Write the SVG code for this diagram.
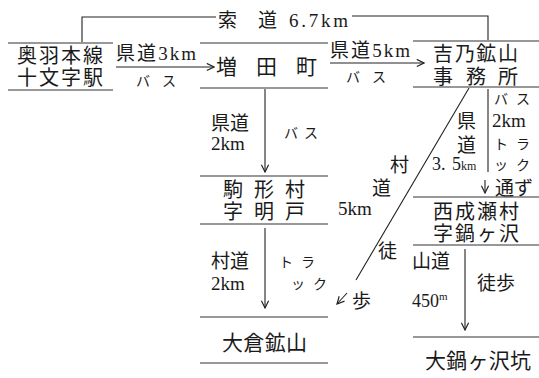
<svg xmlns="http://www.w3.org/2000/svg" width="539" height="378" viewBox="0 0 539 378">
<defs>
<style>
.t{font-family:"Liberation Serif","Noto Sans CJK JP",serif;fill:#1a1a1a;}
.n{font-size:21px;}
.n2{font-size:20px;}
.m{font-size:19px;}
.s{font-size:14px;}
.ln{stroke:#333;stroke-width:1.2;fill:none;}
.c{stroke:#222;stroke-width:1.1;fill:none;}
</style>
<marker id="ah" viewBox="0 0 10 10" refX="9" refY="5" markerWidth="9" markerHeight="9" markerUnits="userSpaceOnUse" orient="auto">
<path d="M1,1 L9,5 L1,9" fill="none" stroke="#222" stroke-width="1.3"/>
</marker>
</defs>
<rect width="539" height="378" fill="#fff"/>

<g id="connectors">
<path class="c" d="M82,42 V17 H216"/>
<path class="c" d="M352,16 H488 V40"/>
<path class="c" d="M116,67 H214" marker-end="url(#ah)"/>
<path class="c" d="M330,63 H424" marker-end="url(#ah)"/>
<path class="c" d="M265,89 V172" marker-end="url(#ah)"/>
<path class="c" d="M265,228 V308" marker-end="url(#ah)"/>
<path class="c" d="M469,88 L356,280"/>
<path class="c" d="M347,293 L337,304" marker-end="url(#ah)"/>
<path class="c" d="M488,89 V172"/>
<path class="c" d="M485,180 V193" marker-end="url(#ah)"/>
<path class="c" d="M465,249 V330" marker-end="url(#ah)"/>
</g>

<g id="edge-labels" class="t">
<text class="m" x="218" y="27">索</text>
<text class="m" x="258" y="27">道</text>
<text class="m" x="289" y="27" textLength="59">6.7km</text>
<text class="m" x="116" y="60" textLength="80">県道3km</text>
<text class="s" x="136" y="86" letter-spacing="12">バス</text>
<text class="m" x="330" y="57" textLength="80">県道5km</text>
<text class="s" x="346" y="82" letter-spacing="12">バス</text>
<text class="m" x="211" y="130">県道</text>
<text class="m" x="211" y="150">2km</text>
<text class="s" x="284" y="138" letter-spacing="6">バス</text>
<text class="m" x="211" y="268">村道</text>
<text class="m" x="211" y="290">2km</text>
<text class="s" x="279" y="267" letter-spacing="8">トラ</text>
<text class="s" x="291" y="289" letter-spacing="8">ック</text>
<text class="m" x="390" y="172">村</text>
<text class="m" x="372" y="195">道</text>
<text class="m" x="338" y="215">5km</text>
<text class="m" x="378" y="258">徒</text>
<text class="m" x="352" y="308">歩</text>
<text class="m" x="457" y="128">県</text>
<text class="m" x="457" y="152">道</text>
<text style="font-size:18px" x="432" y="170">3.<tspan x="452">5</tspan><tspan style="font-size:12px">km</tspan></text>
<text class="s" x="494" y="104" letter-spacing="8">バス</text>
<text class="m" x="492" y="127">2km</text>
<text class="s" x="494" y="149" letter-spacing="8">トラ</text>
<text class="s" x="494" y="170" letter-spacing="8">ック</text>
<text class="m" x="495" y="195">通ず</text>
<text class="m" x="412" y="268">山道</text>
<text style="font-size:18px" x="412" y="307">450<tspan style="font-size:11px" dy="-7">m</tspan></text>
<text class="m" x="477" y="290">徒歩</text>
</g>

<g id="node-oushu">
<path class="ln" d="M8,43 H113 M8,90 H113"/>
<text class="t n2" x="17" y="63" textLength="86">奥羽本線</text>
<text class="t n2" x="17" y="85" textLength="86">十文字駅</text>
</g>

<g id="node-masuda">
<path class="ln" d="M200,43 H328 M200,88 H328"/>
<text class="t n" x="216 256 296" y="74">増田町</text>
</g>

<g id="node-yoshino">
<path class="ln" d="M413,41 H539 M413,87 H539"/>
<text class="t n2" x="433" y="61" textLength="85">吉乃鉱山</text>
<text class="t n2" x="433 466 498" y="84">事務所</text>
</g>

<g id="node-komagata">
<path class="ln" d="M200,176 H328 M200,224 H328"/>
<text class="t n2" x="223 254 285" y="197">駒形村</text>
<text class="t n2" x="223 254 285" y="219">字明戸</text>
</g>

<g id="node-ookura">
<path class="ln" d="M200,317 H328 M200,363 H328"/>
<text class="t n" x="222" y="350" textLength="85">大倉鉱山</text>
</g>

<g id="node-nishinaruse">
<path class="ln" d="M413,197 H539 M413,245 H539"/>
<text class="t n2" x="433" y="219" textLength="86">西成瀬村</text>
<text class="t n2" x="433" y="241" textLength="86">字鍋ヶ沢</text>
</g>

<g id="node-oonabe">
<path class="ln" d="M413,337 H539"/>
<text class="t n" x="425" y="368" textLength="106">大鍋ヶ沢坑</text>
</g>
</svg>
